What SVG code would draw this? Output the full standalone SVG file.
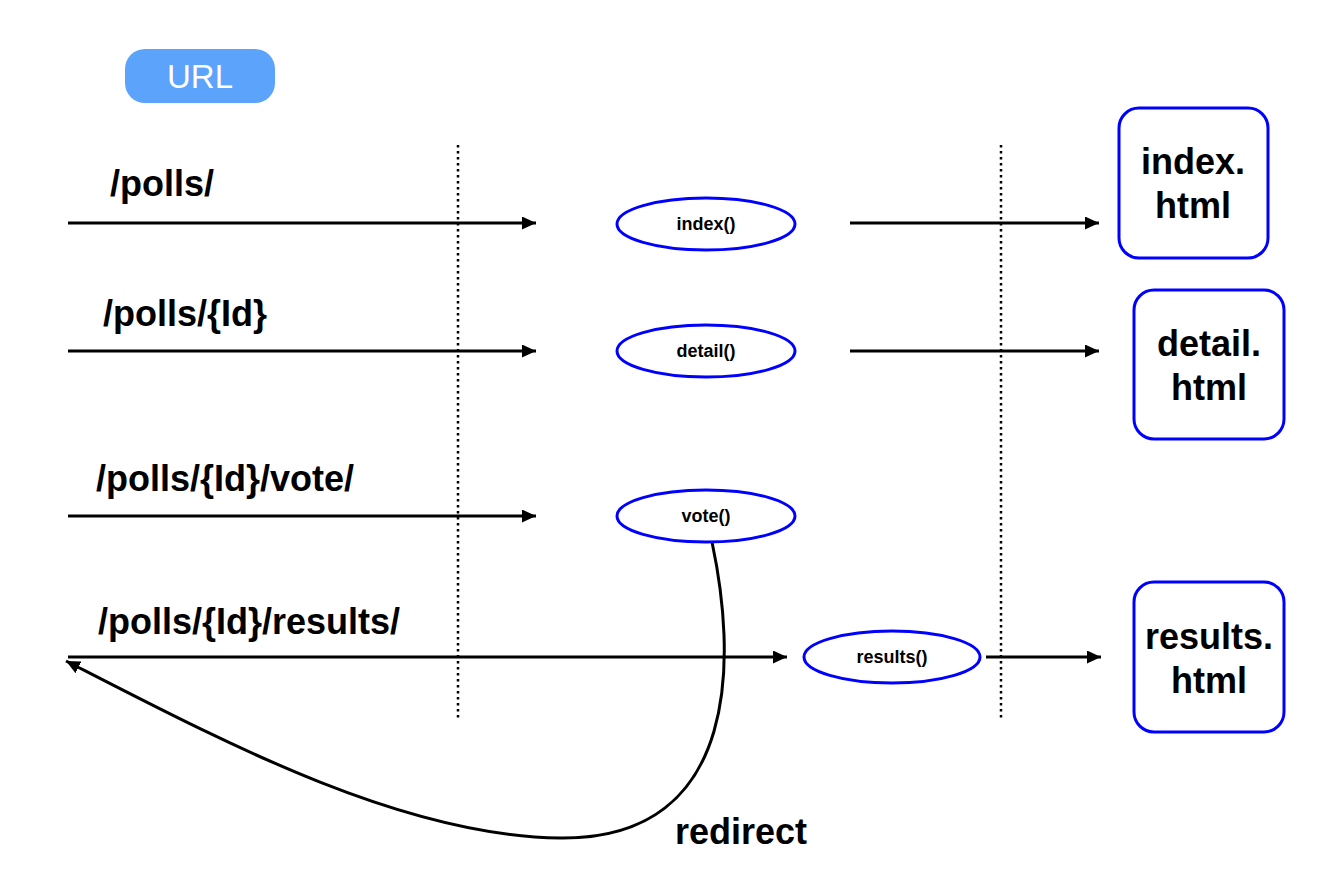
<svg xmlns="http://www.w3.org/2000/svg" width="1322" height="880" viewBox="0 0 1322 880">
<style>
.lbl{font-family:"Liberation Sans",Arial,sans-serif;font-weight:bold;font-size:36px;fill:#000}
.fn{font-family:"Liberation Sans",Arial,sans-serif;font-weight:bold;font-size:18px;fill:#000;text-anchor:middle}
.page{font-family:"Liberation Sans",Arial,sans-serif;font-weight:bold;font-size:36px;fill:#000;text-anchor:middle}
.ell{fill:#fff;stroke:#0000ff;stroke-width:3}
.box{fill:#fff;stroke:#0000ff;stroke-width:3}
.ln{stroke:#000;stroke-width:3;fill:none}
.dot{stroke:#000;stroke-width:2.5;stroke-dasharray:2.5 3.5;fill:none}
</style>
<defs>
<marker id="ah" markerWidth="14" markerHeight="13" refX="14" refY="6.5" orient="auto" markerUnits="userSpaceOnUse">
<path d="M0,0 L14,6.5 L0,13 Z" fill="#000"/>
</marker>
</defs>
<rect width="1322" height="880" fill="#fff"/>
<g id="url">
<rect x="125" y="49" width="150" height="54" rx="20" fill="#5ba3fb"/>
<text x="200" y="88" text-anchor="middle" font-family="'Liberation Sans',Arial,sans-serif" font-size="33" fill="#fff">URL</text>
</g>
<g id="dividers">
<line class="dot" x1="458" y1="145" x2="458" y2="718"/>
<line class="dot" x1="1001" y1="145" x2="1001" y2="718"/>
</g>
<g id="labels">
<text class="lbl" x="110" y="196">/polls/</text>
<text class="lbl" x="103" y="326">/polls/{Id}</text>
<text class="lbl" x="96" y="491">/polls/{Id}/vote/</text>
<text class="lbl" x="98" y="634">/polls/{Id}/results/</text>
<text class="lbl" x="675" y="844">redirect</text>
</g>
<g id="connectors">
<line class="ln" x1="68" y1="223" x2="536" y2="223" marker-end="url(#ah)"/>
<line class="ln" x1="850" y1="223" x2="1099" y2="223" marker-end="url(#ah)"/>
<line class="ln" x1="68" y1="351" x2="536" y2="351" marker-end="url(#ah)"/>
<line class="ln" x1="850" y1="351" x2="1099" y2="351" marker-end="url(#ah)"/>
<line class="ln" x1="68" y1="516" x2="536" y2="516" marker-end="url(#ah)"/>
<line class="ln" x1="68" y1="657" x2="787" y2="657" marker-end="url(#ah)"/>
<line class="ln" x1="986" y1="657" x2="1101" y2="657" marker-end="url(#ah)"/>
<path class="ln" d="M712,542 C735,650 745,840 560,838 C400,836 220,740 66,661" marker-end="url(#ah)"/>
</g>
<g id="index-fn">
<ellipse class="ell" cx="706" cy="224" rx="89" ry="26"/>
<text class="fn" x="706" y="230">index()</text>
</g>
<g id="detail-fn">
<ellipse class="ell" cx="706" cy="351" rx="89" ry="26"/>
<text class="fn" x="706" y="357">detail()</text>
</g>
<g id="vote-fn">
<ellipse class="ell" cx="706" cy="516" rx="89" ry="26"/>
<text class="fn" x="706" y="522">vote()</text>
</g>
<g id="results-fn">
<ellipse class="ell" cx="892" cy="657" rx="88" ry="26"/>
<text class="fn" x="892" y="663">results()</text>
</g>
<g id="index-html">
<rect class="box" x="1119" y="108" width="149" height="150" rx="20"/>
<text class="page" x="1193" y="174">index.</text>
<text class="page" x="1193" y="218">html</text>
</g>
<g id="detail-html">
<rect class="box" x="1134" y="290" width="150" height="149" rx="20"/>
<text class="page" x="1209" y="356">detail.</text>
<text class="page" x="1209" y="400">html</text>
</g>
<g id="results-html">
<rect class="box" x="1134" y="582" width="150" height="150" rx="20"/>
<text class="page" x="1209" y="649">results.</text>
<text class="page" x="1209" y="693">html</text>
</g>
</svg>
